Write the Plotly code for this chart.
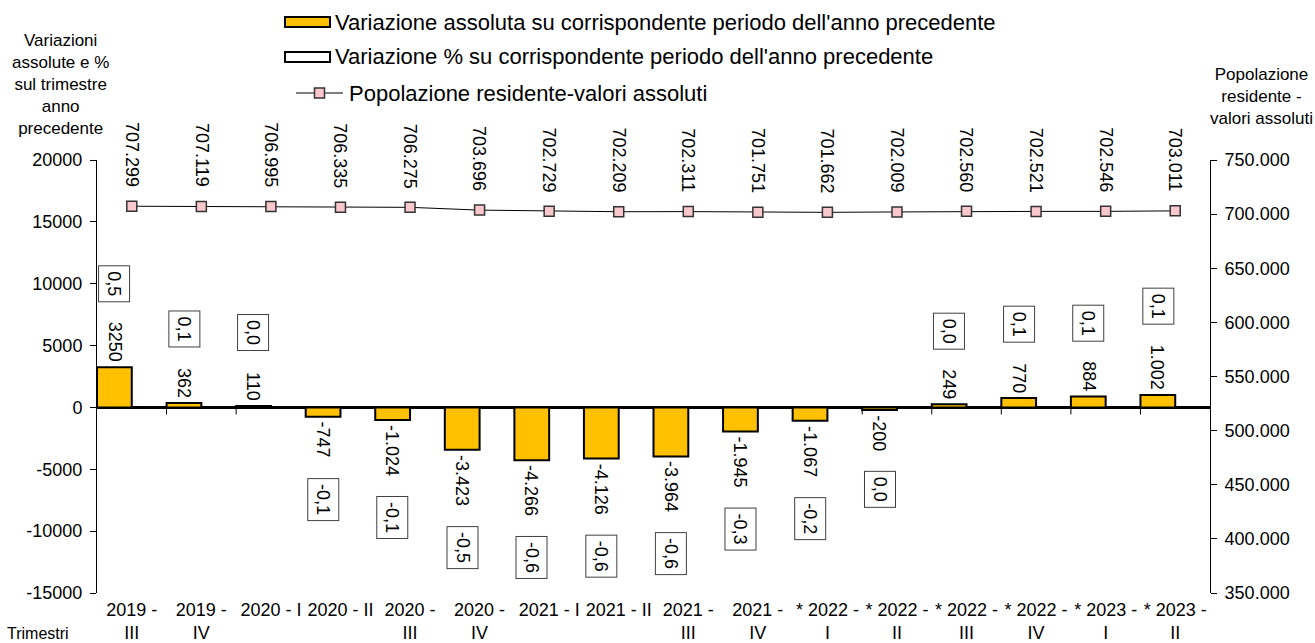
import plotly.graph_objects as go

# ---------------- data ----------------
categories = ["2019 - III", "2019 - IV", "2020 - I", "2020 - II", "2020 - III", "2020 - IV",
              "2021 - I", "2021 - II", "2021 - III", "2021 - IV", "* 2022 - I", "* 2022 - II",
              "* 2022 - III", "* 2022 - IV", "* 2023 - I", "* 2023 - II"]
tick_labels = ["2019 -<br>III", "2019 -<br>IV", "2020 - I", "2020 - II", "2020 -<br>III",
               "2020 -<br>IV", "2021 - I", "2021 - II", "2021 -<br>III", "2021 -<br>IV",
               "* 2022 -<br>I", "* 2022 -<br>II", "* 2022 -<br>III", "* 2022 -<br>IV",
               "* 2023 -<br>I", "* 2023 -<br>II"]
abs_var = [3250, 362, 110, -747, -1024, -3423, -4266, -4126, -3964, -1945, -1067, -200,
           249, 770, 884, 1002]
abs_labels = ["3250", "362", "110", "-747", "-1.024", "-3.423", "-4.266", "-4.126", "-3.964",
              "-1.945", "-1.067", "-200", "249", "770", "884", "1.002"]
pct_var = [0.5, 0.1, 0.0, -0.1, -0.1, -0.5, -0.6, -0.6, -0.6, -0.3, -0.2, 0.0, 0.0, 0.1, 0.1, 0.1]
pct_labels = ["0,5", "0,1", "0,0", "-0,1", "-0,1", "-0,5", "-0,6", "-0,6", "-0,6", "-0,3",
              "-0,2", "0,0", "0,0", "0,1", "0,1", "0,1"]
population = [707299, 707119, 706995, 706335, 706275, 703696, 702729, 702209, 702311, 701751,
              701662, 702009, 702560, 702521, 702546, 703011]
pop_labels = ["707.299", "707.119", "706.995", "706.335", "706.275", "703.696", "702.729",
              "702.209", "702.311", "701.751", "701.662", "702.009", "702.560", "702.521",
              "702.546", "703.011"]
y_ticks = [-15000, -10000, -5000, 0, 5000, 10000, 15000, 20000]
y_tick_labels = ["-15000", "-10000", "-5000", "0", "5000", "10000", "15000", "20000"]
y2_ticks = [350000, 400000, 450000, 500000, 550000, 600000, 650000, 700000, 750000]
y2_tick_labels = ["350.000", "400.000", "450.000", "500.000", "550.000", "600.000",
                  "650.000", "700.000", "750.000"]

legend_texts = ["Variazione assoluta su corrispondente periodo dell'anno precedente",
                "Variazione % su corrispondente periodo dell'anno precedente",
                "Popolazione residente-valori assoluti"]
left_title = "Variazioni<br>assolute e %<br>sul trimestre<br>anno<br>precedente"
right_title = "Popolazione<br>residente -<br>valori assoluti"
x_title = "Trimestri"

# ---------------- style ----------------
W, H = 1315, 643
L, R, T, B = 97, 1210, 160, 593
FONT = "Liberation Sans, Arial, sans-serif"
BAR_COLOR = "#FFC000"
MARK_COLOR = "#F9C8CC"
LBL = 18


def px_x(x):
    return (x - L) / (R - L)


def px_y(y):
    return (B - y) / (B - T)


def text_len(s, size):
    w = 0.0
    for ch in s:
        if ch.isdigit():
            w += 0.556
        elif ch in ".,":
            w += 0.278
        elif ch == "-":
            w += 0.333
        else:
            w += 0.5
    return w * size


fig = go.Figure()
fig.add_trace(go.Bar(x=categories, y=abs_var, offset=-0.5, width=0.5,
                     marker=dict(color=BAR_COLOR, line=dict(color="black", width=2)),
                     name=legend_texts[0], showlegend=False))
fig.add_trace(go.Bar(x=categories, y=pct_var, offset=0.0, width=0.5,
                     marker=dict(color="rgba(0,0,0,0)", line=dict(color="black", width=0)),
                     name=legend_texts[1], showlegend=False))
fig.add_trace(go.Scatter(x=categories, y=population, yaxis="y2", mode="lines+markers",
                         line=dict(color="black", width=1),
                         marker=dict(symbol="square", size=10, color=MARK_COLOR,
                                     line=dict(color="#333333", width=1.5)),
                         name=legend_texts[2], showlegend=False))

ann = []
for i, (v, s, p, ps) in enumerate(zip(abs_var, abs_labels, pct_var, pct_labels)):
    pos = v >= 0
    sign = 1 if pos else -1
    ann.append(dict(x=i - 0.25, y=v, xref="x", yref="y", text=s, textangle=90,
                    showarrow=False, yanchor="bottom" if pos else "top",
                    yshift=sign * 3, font=dict(size=LBL, color="black")))
    ann.append(dict(x=i - 0.25, y=v, xref="x", yref="y", text=ps, textangle=90,
                    showarrow=False, yanchor="bottom" if pos else "top",
                    yshift=sign * (3 + text_len(s, LBL) + 22),
                    bordercolor="#404040", borderwidth=1, borderpad=5, bgcolor="white",
                    font=dict(size=LBL, color="black")))
for i, (pv, s) in enumerate(zip(population, pop_labels)):
    ann.append(dict(x=i, y=pv, xref="x", yref="y2", text=s, textangle=90, showarrow=False,
                    yanchor="bottom", yshift=17, font=dict(size=LBL, color="black")))

# axis titles
ann.append(dict(x=px_x(60), y=px_y(84), xref="paper", yref="paper", text=left_title,
                showarrow=False, xanchor="center", yanchor="middle",
                font=dict(size=17, color="black")))
ann.append(dict(x=px_x(1261), y=px_y(97), xref="paper", yref="paper", text=right_title,
                showarrow=False, xanchor="center", yanchor="middle",
                font=dict(size=17, color="black")))
ann.append(dict(x=px_x(38), y=px_y(633), xref="paper", yref="paper", text=x_title,
                showarrow=False, xanchor="center", yanchor="middle",
                font=dict(size=16, color="black")))

# custom legend
shapes = []
rows = [22, 57, 93]
gx0, gx1, tx = 285, 330, 333
shapes.append(dict(type="rect", xref="paper", yref="paper", x0=px_x(gx0), x1=px_x(gx1),
                   y0=px_y(rows[0] + 5), y1=px_y(rows[0] - 5), fillcolor=BAR_COLOR,
                   line=dict(color="black", width=2)))
shapes.append(dict(type="rect", xref="paper", yref="paper", x0=px_x(gx0), x1=px_x(gx1),
                   y0=px_y(rows[1] + 5), y1=px_y(rows[1] - 5), fillcolor="white",
                   line=dict(color="black", width=2)))
shapes.append(dict(type="line", xref="paper", yref="paper", x0=px_x(296), x1=px_x(343),
                   y0=px_y(rows[2]), y1=px_y(rows[2]), line=dict(color="black", width=1)))
mx = (296 + 343) / 2
shapes.append(dict(type="rect", xref="paper", yref="paper", x0=px_x(mx - 5), x1=px_x(mx + 5),
                   y0=px_y(rows[2] + 5), y1=px_y(rows[2] - 5), fillcolor=MARK_COLOR,
                   line=dict(color="#333333", width=1.5)))
for k, (t, yy) in enumerate(zip(legend_texts, rows)):
    ann.append(dict(x=px_x(347 if k == 2 else tx), y=px_y(yy), xref="paper",
                    yref="paper", text=t, showarrow=False, xanchor="left", yanchor="middle",
                    font=dict(size=22, color="black")))

# category boundary ticks on zero line
for i in range(1, len(categories)):
    shapes.append(dict(type="line", xref="x", yref="y", x0=i - 0.5, x1=i - 0.5,
                       ysizemode="pixel", yanchor=0, y0=0, y1=-7,
                       line=dict(color="black", width=1)))

fig.update_layout(
    width=W, height=H, autosize=False,
    margin=dict(l=L, r=W - R, t=T, b=H - B, pad=0, autoexpand=False),
    paper_bgcolor="white", plot_bgcolor="white",
    font=dict(family=FONT, color="black"),
    barmode="overlay", showlegend=False,
    annotations=ann, shapes=shapes,
    xaxis=dict(type="category", range=[-0.5, len(categories) - 0.5], automargin=False,
               tickmode="array", tickvals=categories, ticktext=tick_labels, tickangle=0,
               showline=False, ticks="", showgrid=False, zeroline=False,
               ticklabelstandoff=4, tickfont=dict(size=18)),
    yaxis=dict(range=[-15000, 20000], tickmode="array", tickvals=y_ticks,
               ticktext=y_tick_labels, automargin=False, ticklabelstandoff=4,
               ticks="outside", ticklen=6, tickcolor="black", showline=True,
               linecolor="black", linewidth=1, showgrid=False, zeroline=True,
               zerolinecolor="black", zerolinewidth=2.5, tickfont=dict(size=18)),
    yaxis2=dict(overlaying="y", side="right", range=[350000, 750000], tickmode="array",
                tickvals=y2_ticks, ticktext=y2_tick_labels, ticks="outside", ticklen=6,
                automargin=False, ticklabelstandoff=4,
                tickcolor="black", showline=True, linecolor="black", linewidth=1,
                showgrid=False, zeroline=False, tickfont=dict(size=18)),
)

fig.write_html("out.html", config={"displayModeBar": False},
               post_script="document.body.style.margin='0';document.body.style.overflow='hidden';")
